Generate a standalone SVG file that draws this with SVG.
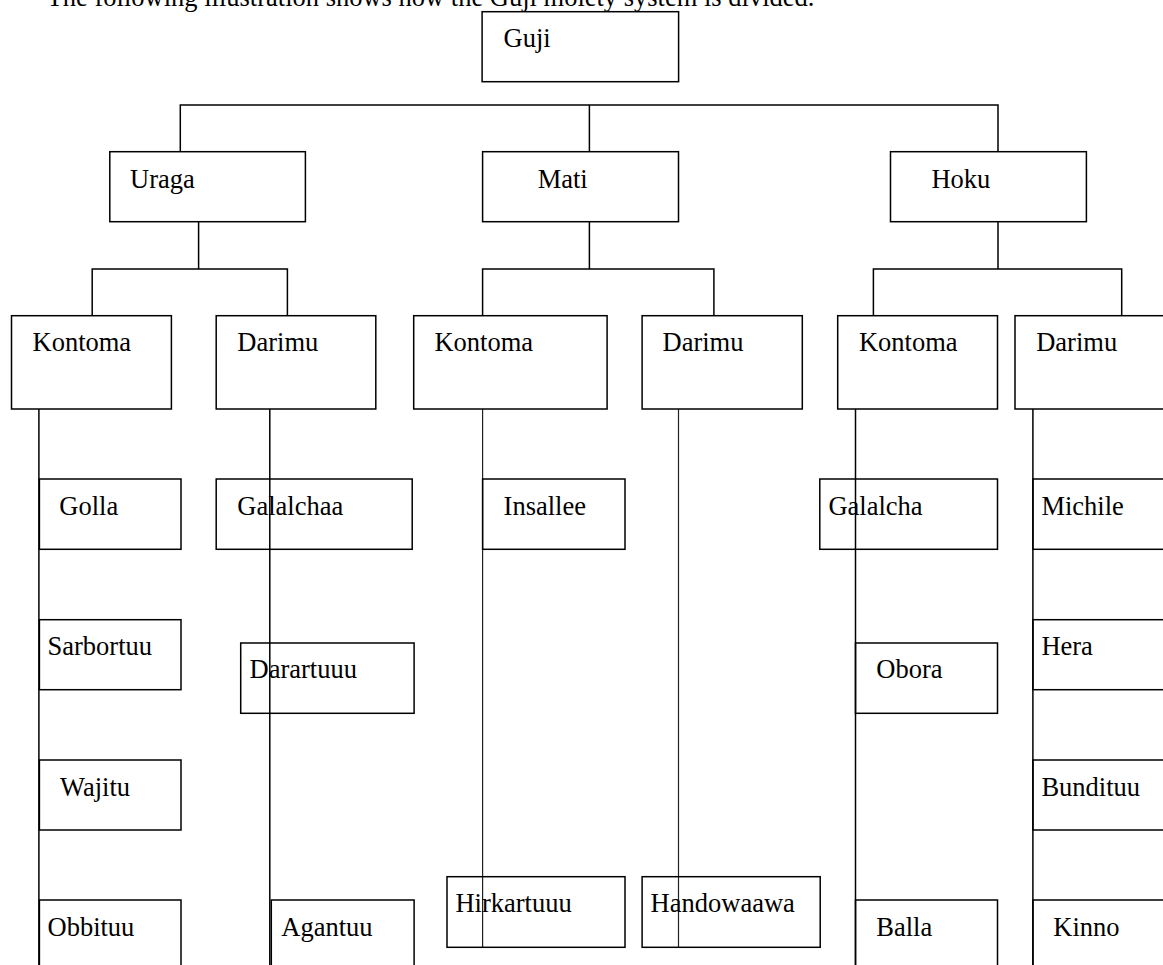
<svg xmlns="http://www.w3.org/2000/svg" width="1163" height="965" viewBox="0 0 1163 965">
  <style>
    .box { fill: none; stroke: #000; stroke-width: 1.5; }
    .lbl { font-family: "Liberation Serif", "Times New Roman", serif; font-size: 26.5px; fill: #000; }
    .wire { fill: none; stroke: #000; stroke-width: 1.5; }
    .thin { fill: none; stroke: #222; stroke-width: 1.2; }
  </style>
  <rect width="1163" height="965" fill="#fff"/>

  <text class="lbl" x="46.7" y="6" font-size="26.6">The following illustration shows how the Guji moiety system is divided.</text>

  <g id="connectors">
    <!-- Guji to the three moieties -->
    <path class="wire" d="M180.3 151.7 V105 H998 V151.7 M589.4 105 V151.7"/>
    <!-- Uraga branch -->
    <path class="wire" d="M198.6 221.7 V269 M92.2 315.7 V269 H287.4 V315.7"/>
    <!-- Mati branch -->
    <path class="wire" d="M589.4 221.7 V269 M482.6 315.7 V269 H713.9 V315.7"/>
    <!-- Hoku branch -->
    <path class="wire" d="M998 221.7 V269 M873.4 315.7 V269 H1121.7 V315.7"/>
    <!-- clan spines -->
    <path class="wire" d="M38.9 409 V965 M269.8 409 V965 M855.5 409 V965 M1032.9 409 V965"/>
    <path class="thin" d="M482.6 409 V947.3 M678.5 409 V947.3"/>
  </g>

  <g id="guji"><rect class="box" x="482.1" y="11.7" width="196.5" height="70"/><text class="lbl" x="503.6" y="46.7">Guji</text></g>

  <g id="uraga"><rect class="box" x="109.8" y="151.7" width="195.6" height="70"/><text class="lbl" x="130.1" y="188.3">Uraga</text></g>
  <g id="mati"><rect class="box" x="482.6" y="151.7" width="195.9" height="70"/><text class="lbl" x="537.7" y="188.3">Mati</text></g>
  <g id="hoku"><rect class="box" x="890.5" y="151.7" width="195.9" height="70"/><text class="lbl" x="931.4" y="188.3">Hoku</text></g>

  <g id="uraga-kontoma"><rect class="box" x="11.5" y="315.7" width="159.9" height="93.3"/><text class="lbl" x="32.5" y="351">Kontoma</text></g>
  <g id="uraga-darimu"><rect class="box" x="216.2" y="315.7" width="159.6" height="93.3"/><text class="lbl" x="237.3" y="351">Darimu</text></g>
  <g id="mati-kontoma"><rect class="box" x="413.7" y="315.7" width="193.4" height="93.3"/><text class="lbl" x="434.4" y="351">Kontoma</text></g>
  <g id="mati-darimu"><rect class="box" x="642.1" y="315.7" width="160.2" height="93.3"/><text class="lbl" x="662.5" y="351">Darimu</text></g>
  <g id="hoku-kontoma"><rect class="box" x="837.7" y="315.7" width="159.8" height="93.3"/><text class="lbl" x="858.9" y="351">Kontoma</text></g>
  <g id="hoku-darimu"><rect class="box" x="1015" y="315.7" width="170" height="93.3"/><text class="lbl" x="1036.2" y="351">Darimu</text></g>

  <g id="golla"><rect class="box" x="39.4" y="479" width="141.6" height="70.3"/><text class="lbl" x="59.3" y="515">Golla</text></g>
  <g id="sarbortuu"><rect class="box" x="39.4" y="619.7" width="141.6" height="70"/><text class="lbl" x="47.5" y="655">Sarbortuu</text></g>
  <g id="wajitu"><rect class="box" x="39.4" y="760" width="141.6" height="70"/><text class="lbl" x="60.1" y="795.7">Wajitu</text></g>
  <g id="obbituu"><rect class="box" x="39.4" y="900" width="141.6" height="75"/><text class="lbl" x="47.5" y="935.7">Obbituu</text></g>

  <g id="galalchaa"><rect class="box" x="216.2" y="479" width="196" height="70.3"/><text class="lbl" x="237.3" y="515">Galalchaa</text></g>
  <g id="darartuuu"><rect class="box" x="240.7" y="643" width="173.4" height="70.3"/><text class="lbl" x="249.5" y="678.3">Darartuuu</text></g>
  <g id="agantuu"><rect class="box" x="271.3" y="900" width="142.8" height="75"/><text class="lbl" x="281.3" y="935.7">Agantuu</text></g>

  <g id="insallee"><rect class="box" x="482.6" y="479" width="142.4" height="70.3"/><text class="lbl" x="503.6" y="515">Insallee</text></g>
  <g id="hirkartuuu"><rect class="box" x="447" y="876.7" width="178" height="70.6"/><text class="lbl" x="455.4" y="911.7">Hirkartuuu</text></g>

  <g id="handowaawa"><rect class="box" x="642.1" y="876.7" width="178.1" height="70.6"/><text class="lbl" x="650.6" y="911.7">Handowaawa</text></g>

  <g id="galalcha"><rect class="box" x="819.8" y="479" width="177.7" height="70.3"/><text class="lbl" x="828.4" y="515">Galalcha</text></g>
  <g id="obora"><rect class="box" x="855.5" y="643" width="142" height="70.3"/><text class="lbl" x="876.3" y="678.3">Obora</text></g>
  <g id="balla"><rect class="box" x="855.5" y="900" width="142" height="75"/><text class="lbl" x="876.3" y="935.7">Balla</text></g>

  <g id="michile"><rect class="box" x="1032.9" y="479" width="150" height="70.3"/><text class="lbl" x="1041.4" y="515">Michile</text></g>
  <g id="hera"><rect class="box" x="1032.9" y="619.7" width="150" height="70"/><text class="lbl" x="1041.4" y="655">Hera</text></g>
  <g id="bundituu"><rect class="box" x="1032.9" y="760" width="150" height="70"/><text class="lbl" x="1041.4" y="795.7">Bundituu</text></g>
  <g id="kinno"><rect class="box" x="1032.9" y="900" width="150" height="75"/><text class="lbl" x="1053.3" y="935.7">Kinno</text></g>
</svg>
